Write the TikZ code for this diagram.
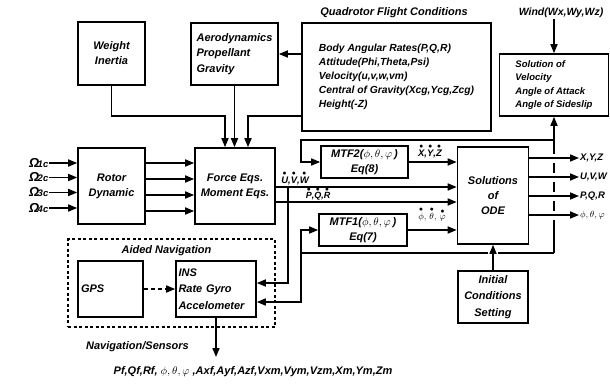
\documentclass[tikz,border=0pt]{standalone}
\usepackage{amsmath}
\usepackage{graphicx}
\usepackage{fontspec}
\setmainfont{Liberation Sans}
\usetikzlibrary{arrows.meta}
\newcommand\bul{\raisebox{-1.5pt}{\scalebox{0.85}{$\bullet$}}}
\newcommand\bulm{\raisebox{0.5pt}{\scalebox{0.85}{$\bullet$}}}
\newcommand\dotb[1]{\ensuremath{\overset{\bul}{\mbox{#1}}}}
\newcommand\dotm[1]{\ensuremath{\overset{\bulm}{#1}}}
\newcommand\omlab[1]{{\fontsize{13}{13}\selectfont Ω}\kern-1.5pt{\fontsize{9.5}{9.5}\selectfont #1c}}
\newcommand\fsz[2]{\bfseries\itshape\fontsize{#1}{#2}\selectfont}
\begin{document}
\begin{tikzpicture}[x=1pt,y=-1pt,
  every node/.style={font=\fsz{11}{15}, inner sep=1pt},
  blk/.style={draw, line width=1.6pt, align=center, inner sep=2pt},
  wire/.style={line width=1.6pt},
  arr/.style={wire, -{Triangle[length=9pt,width=7pt]}},
]
\useasboundingbox (0,0) rectangle (610,383);

% blocks
\node[blk, minimum width=67pt, minimum height=63pt] (weight) at (111.5,53.5) {Weight\\Inertia};
\node[blk, minimum width=87pt, minimum height=62pt, align=left, font=\fsz{11}{15.5}] (aero) at (234.5,54) {Aerodynamics\\Propellant\\Gravity};
\node[blk, minimum width=189pt, minimum height=108pt, align=left, font=\fsz{10.3}{14}] (quad) at (396.5,77) {Body Angular Rates(P,Q,R)\\Attitude(Phi,Theta,Psi)\\Velocity(u,v,w,vm)\\Central of Gravity(Xcg,Ycg,Zcg)\\Height(-Z)};
\node (qtitle) at (394,13) {Quadrotor Flight Conditions};
\node[blk, minimum width=80pt, minimum height=76pt] (force) at (235,186) {Force Eqs.\\Moment Eqs.};
\node[blk, minimum width=67pt, minimum height=76pt] (rotor) at (111.5,186) {Rotor\\Dynamic};
\node[draw, line width=1.6pt, dash pattern=on 3pt off 2.5pt, minimum width=207pt, minimum height=88pt] (aidbox) at (171.5,283) {};
\node (aidlab) at (166.5,251) {Aided Navigation};
\node[blk, minimum height=56pt, align=left, text width=59pt, inner xsep=3pt] (gps) at (110.5,289) {GPS};
\node[blk, minimum height=56pt, align=left, text width=75pt, inner xsep=2.5pt, font=\fsz{11}{16.5}] (ins) at (216,289) {INS\\Rate Gyro\\Accelometer};
\node[blk, minimum width=87pt, minimum height=32pt] (mtf2) at (364.5,162) {MTF2($\phi,\theta,\varphi$\,)\\Eq(8)};
\node[blk, minimum width=88pt, minimum height=32pt] (mtf1) at (363,230) {MTF1($\phi,\theta,\varphi$\,)\\Eq(7)};
\node[blk, minimum width=71pt, minimum height=97pt] (sol) at (493,195.5) {Solutions\\of\\ODE};
\node[blk, minimum width=70pt, minimum height=52pt, font=\fsz{11}{16.5}] (init) at (493,297) {Initial\\Conditions\\Setting};
\node[blk, minimum width=109pt, minimum height=62pt, align=left, font=\fsz{9.5}{13.5}] (solvel) at (554,85) {Solution of\\Velocity\\Angle of Attack\\Angle of Sideslip};
\node[font=\fsz{10.5}{12}] (wind) at (561,13) {Wind(Wx,Wy,Wz)};

% omega inputs
\node[anchor=east, inner sep=0.5pt] (om1) at (49,163) {\omlab{1}};
\node[anchor=east, inner sep=0.5pt] (om2) at (49,177.5) {\omlab{2}};
\node[anchor=east, inner sep=0.5pt] (om3) at (49,192.5) {\omlab{3}};
\node[anchor=east, inner sep=0.5pt] (om4) at (49,208) {\omlab{4}};
\foreach \i in {1,2,3,4} \draw[arr] (om\i.east) -- (rotor.west|-om\i.east);

% rotor to force
\foreach \y in {163,179,195,211} \draw[arr] (rotor.east|-0,\y) -- (force.west|-0,\y);

% top inputs to force
\coordinate (fl) at ([xshift=-10pt]force.north);
\coordinate (fr) at ([xshift=13pt]force.north);
\coordinate (ybus) at (0,116);
\draw[arr] (weight.south) |- (fl|-ybus) -- (fl);
\draw[arr] (quad.west|-ybus) -| (fr);
\draw[arr] (aero.south) -- (aero.south|-force.north);
\draw[arr] (quad.west|-aero.east) -- (aero.east);

% force to solutions
\draw[arr] (force.east|-0,187) -- (sol.west|-0,187);
\draw[arr] (force.east|-0,202) -- (sol.west|-0,202);
\node[font=\fsz{9.5}{11}] (luvw) at (295,178) {\dotb{U},\dotb{V},\dotb{W}};
\node[font=\fsz{9}{11}] (lpqr) at (318,194) {\dotb{P},\dotb{Q},\dotb{R}};
\coordinate (uvwj) at (288,187);
\draw[arr] (uvwj) |- (ins.east|-0,283);

% MTF blocks to solutions
\draw[arr] (mtf2.east) -- (sol.west|-mtf2.east);
\draw[arr] (mtf1.east) -- (sol.west|-mtf1.east);
\node[font=\fsz{9.5}{11}] (lxyz) at (430,151) {\dotb{X},\dotb{Y},\dotb{Z}};
\node[font=\fsz{9.5}{11}] (lang) at (432,214) {$\dotm\phi,\,\dotm\theta,\,\dotm\varphi$};

% outputs
\node[anchor=west, font=\fsz{9.5}{11}] (oxyz) at (579,158) {X,Y,Z};
\node[anchor=west, font=\fsz{9.5}{11}] (ouvw) at (579,177) {U,V,W};
\node[anchor=west, font=\fsz{9.5}{11}] (opqr) at (579,196) {P,Q,R};
\node[anchor=west, font=\fsz{9.5}{11}] (oang) at (579,215) {$\phi,\theta,\varphi$};
\foreach \o in {oxyz,ouvw,opqr,oang} \draw[arr] (sol.east|-\o.west) -- (\o.west);

% feedback bus
\coordinate (fbT) at (554,140);
\coordinate (fbB) at (554,253);
\coordinate (fbL) at (301,253);
\draw[wire] (fbB) -- (554,219.5);
\draw[wire] (554,210.5) -- (554,200.5);
\draw[wire] (554,191.5) -- (554,181.5);
\draw[wire] (554,172.5) -- (554,162.5);
\draw[arr] (554,153.5) -- (solvel.south);
\draw[arr] (fbT) -| (301,162) -- (mtf2.west);
\draw[wire] (fbB) -- (498,253);
\draw[wire] (488,253) -- (fbL);
\draw[arr] (fbL) |- (mtf1.west);
\draw[arr] (fbL) |- (ins.east|-0,302);

% initial conditions, wind
\draw[arr] (init.north) -- (sol.south);
\draw[arr] (wind.south-|solvel.north) -- (solvel.north);

% aided navigation
\draw[arr, dash pattern=on 4pt off 3pt] (gps.east) -- (ins.west);
\coordinate (navout) at (216,357);
\draw[arr] (ins.south) -- (navout);
\node (navlab) at (137.5,347) {Navigation/Sensors};
\node (navlist) at (253,372) {Pf,Qf,Rf, $\phi,\theta,\varphi$ ,Axf,Ayf,Azf,Vxm,Vym,Vzm,Xm,Ym,Zm};
\end{tikzpicture}
\end{document}
